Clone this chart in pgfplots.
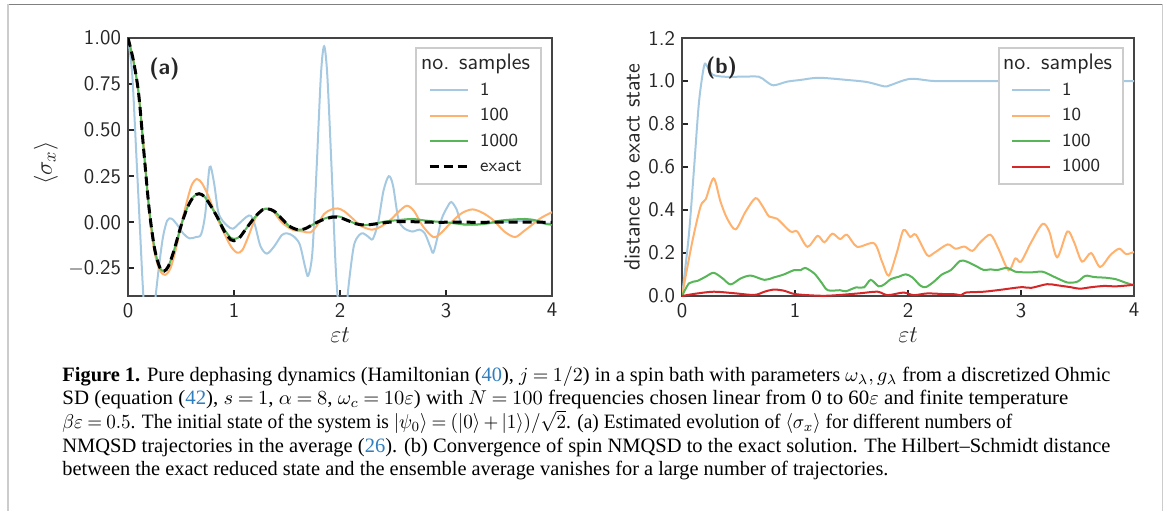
\documentclass[border=0pt]{standalone}
\usepackage{fontspec}
\usepackage{graphicx}
\usepackage{pgfplots}
\pgfplotsset{compat=1.18}
\newfontfamily\capfont[Ligatures=TeX]{Liberation Serif}
\newcommand\capsetup{\capfont\fontsize{10.2}{12}\selectfont\medmuskip=3mu\relax\thickmuskip=4mu\relax}
\definecolor{c1}{HTML}{A5C9E1}
\definecolor{c10}{HTML}{FFB26E}
\definecolor{c100}{HTML}{58B558}
\definecolor{c1000}{HTML}{D62728}
\definecolor{axgray}{HTML}{444444}
\definecolor{txtgray}{HTML}{262626}
\definecolor{leggray}{HTML}{CCCCCC}
\definecolor{refblue}{HTML}{2E7EC0}

\pgfplotsset{
  panel/.style={
    scale only axis, height=129pt,
    xmin=0, xmax=4, xtick={0,1,2,3,4}, xticklabels={0,1,2,3,4},
    axis line style={draw=axgray, line width=0.8pt},
    tick align=inside, xtick pos=bottom, ytick pos=left,
    major tick length=3.2pt,
    tick style={txtgray, line width=1.1pt},
    tick label style={font=\fontsize{10.4}{12}\sffamily, text=txtgray},
    every axis x label/.style={at={(axis description cs:0.5,0)}, yshift=-19.5pt,
      anchor=center, font=\fontsize{13}{15}\selectfont, text=txtgray},
    legend cell align=left,
    legend image code/.code={\path (-2pt,0pt); \draw[##1] (0pt,0pt) -- (19pt,0pt);},
    legend style={at={(1,1)}, anchor=north east, xshift=-5pt, yshift=-4.35pt,
      draw=leggray, line width=1pt, fill=white, inner xsep=4pt, inner ysep=2.4pt,
      font=\fontsize{9.2}{11}\sffamily, text=txtgray, row sep=0.8pt, column sep=4pt,
      nodes={inner sep=1.5pt, text height=7pt, text depth=2pt}},
    every axis plot/.append style={line width=1pt, smooth},
  },
}

\begin{document}
\begin{tikzpicture}
\useasboundingbox (0,0) rectangle (583.5pt,-255.5pt);
\draw[gray, line width=0.5pt] (4pt,-2pt) -- (581pt,-2pt);
\draw[leggray, line width=1pt] (3.75pt,-2pt) -- (3.75pt,-255.5pt);
\draw[leggray, line width=0.5pt] (581pt,-2pt) -- (581pt,-255.5pt);

% panel (a)
\begin{axis}[panel, at={(64pt,-148pt)}, anchor=south west, width=212pt,
  ymin=-0.4, ymax=1.0, ytick={-0.25,0,0.25,0.5,0.75,1},
  yticklabels={$-$0.25,0.00,0.25,0.50,0.75,1.00},
  xlabel={$\varepsilon t$}, ylabel={$\langle\sigma_x\rangle$},
  every axis y label/.style={at={(axis description cs:-0.1934,0.515)}, rotate=90,
    anchor=center, font=\fontsize{12.3}{14}\selectfont, text=txtgray}]
\addlegendimage{empty legend}
\addlegendentry{\hspace*{-29.5pt}\fontsize{11.2}{13}\selectfont no. samples}
\addplot[c1] coordinates {
(0,1.0) (0.04,0.8) (0.08,0.35) (0.11,0.0) (0.14,-0.35) (0.17,-0.6) (0.21,-0.6)
(0.25,-0.45) (0.29,-0.25) (0.33,-0.08) (0.37,0.01) (0.41,0.02) (0.46,-0.01)
(0.52,-0.06) (0.58,-0.087) (0.64,-0.08) (0.69,-0.065) (0.73,0.05) (0.77,0.3)
(0.81,0.22) (0.85,0.06) (0.89,0.01) (0.94,-0.02) (0.99,-0.035) (1.06,0.0)
(1.12,0.03) (1.16,0.035) (1.2,-0.02) (1.25,-0.13) (1.31,-0.17) (1.38,-0.13)
(1.45,-0.07) (1.5,-0.06) (1.56,-0.075) (1.62,-0.12) (1.67,-0.24) (1.7,-0.29)
(1.74,-0.16) (1.78,0.3) (1.82,0.8) (1.85,0.955) (1.88,0.8) (1.92,0.3)
(1.96,-0.25) (2.0,-0.55) (2.04,-0.6) (2.08,-0.35) (2.13,-0.13) (2.18,-0.07)
(2.22,-0.06) (2.27,-0.08) (2.31,-0.09) (2.36,0.0) (2.41,0.17) (2.46,0.25)
(2.5,0.2) (2.55,0.02) (2.6,-0.03) (2.68,-0.05) (2.75,-0.04) (2.8,-0.06)
(2.85,-0.13) (2.88,-0.165) (2.92,-0.08) (2.96,0.02) (3.01,0.08) (3.05,0.11)
(3.1,0.07) (3.15,-0.01) (3.25,-0.012) (3.35,-0.008) (3.5,0.0) (3.65,0.005)
(3.8,0.008) (3.9,-0.005) (4.0,-0.008)};
\addlegendentry{1}
\addplot[c10] coordinates {
(0,1.0) (0.05,0.88) (0.1,0.7) (0.15,0.4) (0.2,0.06) (0.25,-0.16) (0.3,-0.26)
(0.35,-0.285) (0.4,-0.25) (0.45,-0.15) (0.5,-0.02) (0.55,0.1) (0.6,0.2)
(0.65,0.235) (0.7,0.21) (0.76,0.14) (0.82,0.05) (0.9,-0.05) (0.97,-0.13)
(1.03,-0.165) (1.08,-0.15) (1.14,-0.07) (1.2,0.02) (1.26,0.065) (1.31,0.075)
(1.37,0.06) (1.45,0.0) (1.55,-0.04) (1.65,-0.05) (1.72,-0.055) (1.78,-0.02)
(1.85,0.045) (1.92,0.07) (1.98,0.075) (2.04,0.06) (2.12,0.02) (2.2,-0.02)
(2.3,-0.04) (2.38,-0.025) (2.47,0.01) (2.55,0.055) (2.63,0.09) (2.7,0.06)
(2.78,-0.02) (2.88,-0.08) (2.95,-0.06) (3.05,0.0) (3.15,0.05) (3.25,0.07)
(3.35,0.05) (3.45,0.01) (3.55,-0.05) (3.65,-0.08) (3.73,-0.05) (3.82,-0.01)
(3.9,0.025) (4.0,0.055)};
\addlegendentry{100}
\addplot[c100] coordinates {
(0,1.0) (0.05,0.88) (0.1,0.7) (0.15,0.38) (0.2,0.07) (0.25,-0.14) (0.3,-0.245)
(0.34,-0.265) (0.38,-0.24) (0.43,-0.16) (0.5,-0.02) (0.56,0.08) (0.62,0.14)
(0.67,0.155) (0.72,0.14) (0.78,0.09) (0.85,0.02) (0.91,-0.04) (0.97,-0.085)
(1.0,-0.09) (1.05,-0.08) (1.12,-0.03) (1.2,0.03) (1.27,0.068) (1.32,0.073)
(1.38,0.06) (1.45,0.02) (1.52,-0.02) (1.6,-0.04) (1.67,-0.035) (1.75,-0.01)
(1.83,0.015) (1.93,0.033) (2.0,0.03) (2.08,0.01) (2.15,-0.008) (2.24,-0.015)
(2.33,-0.008) (2.42,0.004) (2.55,0.012) (2.68,0.018) (2.8,0.01) (2.9,0.004)
(3.0,0.0) (3.15,-0.01) (3.3,-0.012) (3.4,-0.005) (3.5,0.008) (3.6,0.014)
(3.75,0.018) (3.85,0.01) (3.95,-0.01) (4.0,-0.012)};
\addlegendentry{1000}
\addplot[black, line width=1.5pt, dash pattern=on 4.5pt off 2.5pt] coordinates {
(0,1.0) (0.05,0.88) (0.1,0.7) (0.15,0.38) (0.2,0.07) (0.25,-0.14) (0.3,-0.245)
(0.34,-0.265) (0.38,-0.24) (0.43,-0.16) (0.5,-0.02) (0.56,0.08) (0.62,0.14)
(0.67,0.155) (0.72,0.14) (0.78,0.09) (0.85,0.02) (0.91,-0.05) (0.97,-0.095)
(1.0,-0.1) (1.05,-0.085) (1.12,-0.03) (1.2,0.03) (1.27,0.068) (1.32,0.073)
(1.38,0.06) (1.45,0.02) (1.52,-0.02) (1.6,-0.04) (1.67,-0.035) (1.75,-0.01)
(1.83,0.012) (1.93,0.028) (2.0,0.025) (2.08,0.008) (2.15,-0.008) (2.23,-0.015)
(2.32,-0.01) (2.42,-0.002) (2.55,0.004) (2.7,0.003) (2.9,0.0) (3.1,0.001)
(3.3,0.0) (3.6,0.001) (4.0,0.0)};
\addlegendentry{exact}
\node[font=\fontsize{11}{13}\sffamily\bfseries, text=txtgray] at (axis cs:0.344,0.833) {(a)};
\end{axis}

% panel (b)
\begin{axis}[panel, at={(341pt,-148pt)}, anchor=south west, width=226pt,
  ymin=0, ymax=1.2, ytick={0,0.2,0.4,0.6,0.8,1.0,1.2},
  yticklabels={0.0,0.2,0.4,0.6,0.8,1.0,1.2},
  xlabel={$\varepsilon t$}, ylabel={distance to exact state},
  every axis y label/.style={at={(axis description cs:-0.1106,0.5)}, rotate=90,
    anchor=center, font=\fontsize{11.2}{13}\sffamily, text=txtgray}]
\addlegendimage{empty legend}
\addlegendentry{\hspace*{-29.5pt}\fontsize{11.2}{13}\selectfont no. samples}
\addplot[c1] coordinates {
(0,0) (0.06,0.28) (0.106,0.59) (0.15,0.9) (0.195,1.07) (0.22,1.07) (0.27,1.03)
(0.37,1.02) (0.52,1.02) (0.68,1.02) (0.74,1.0) (0.81,0.98) (0.93,0.997)
(1.05,1.005) (1.21,1.015) (1.46,1.005) (1.64,0.995) (1.79,0.975) (1.84,0.98)
(2.02,1.01) (2.23,1.0) (2.52,1.0) (2.79,1.0) (3.0,1.0) (3.5,1.0) (4.0,1.0)};
\addlegendentry{1}
\addplot[c10] coordinates {
(0,0) (0.09,0.25) (0.165,0.418) (0.21,0.45) (0.28,0.547) (0.34,0.44)
(0.40,0.36) (0.475,0.31) (0.56,0.39) (0.65,0.455) (0.71,0.42) (0.77,0.37)
(0.84,0.36) (0.96,0.30) (1.02,0.30) (1.11,0.229) (1.20,0.28) (1.26,0.25)
(1.33,0.29) (1.40,0.265) (1.46,0.285) (1.55,0.229) (1.70,0.245) (1.77,0.16)
(1.83,0.095) (1.9,0.2) (1.96,0.307) (2.02,0.275) (2.07,0.285) (2.17,0.19)
(2.23,0.2) (2.35,0.24) (2.42,0.22) (2.50,0.23) (2.57,0.21) (2.64,0.25)
(2.73,0.285) (2.80,0.22) (2.89,0.12) (2.95,0.175) (3.0,0.16) (3.09,0.25)
(3.19,0.335) (3.25,0.30) (3.32,0.18) (3.41,0.30) (3.47,0.25) (3.54,0.16)
(3.62,0.2) (3.70,0.135) (3.79,0.19) (3.87,0.22) (3.93,0.195) (4.0,0.205)};
\addlegendentry{10}
\addplot[c100] coordinates {
(0,0) (0.062,0.059) (0.135,0.07) (0.21,0.09) (0.28,0.108) (0.36,0.082)
(0.43,0.054) (0.52,0.082) (0.61,0.095) (0.73,0.075) (0.81,0.086) (0.90,0.1)
(0.99,0.12) (1.05,0.12) (1.09,0.131) (1.17,0.105) (1.23,0.066) (1.29,0.027)
(1.40,0.027) (1.45,0.022) (1.54,0.04) (1.61,0.04) (1.67,0.075) (1.74,0.045)
(1.79,0.054) (1.85,0.079) (1.92,0.09) (1.98,0.101) (2.04,0.086) (2.11,0.048)
(2.16,0.042) (2.23,0.067) (2.30,0.1) (2.38,0.121) (2.46,0.163) (2.52,0.16)
(2.61,0.137) (2.67,0.121) (2.73,0.124) (2.79,0.121) (2.88,0.131) (2.95,0.113)
(3.09,0.11) (3.19,0.113) (3.29,0.09) (3.41,0.063) (3.50,0.067) (3.57,0.094)
(3.65,0.088) (3.75,0.085) (3.84,0.078) (3.92,0.063) (4.0,0.05)};
\addlegendentry{100}
\addplot[c1000] coordinates {
(0,0) (0.11,0.01) (0.28,0.02) (0.46,0.013) (0.64,0.005) (0.73,0.02) (0.81,0.03)
(0.90,0.025) (0.99,0.01) (1.11,0.004) (1.26,0.001) (1.40,0.005) (1.58,0.013)
(1.73,0.02) (1.82,0.004) (1.96,0.016) (2.05,0.004) (2.17,0.012) (2.32,0.009)
(2.42,0.008) (2.47,0.003) (2.51,0.016) (2.67,0.02) (2.82,0.029) (3.0,0.041)
(3.09,0.038) (3.23,0.055) (3.32,0.05) (3.44,0.041) (3.52,0.034) (3.62,0.041)
(3.74,0.047) (3.84,0.045) (4.0,0.052)};
\addlegendentry{1000}
\node[font=\fontsize{11}{13}\sffamily\bfseries, text=txtgray] at (axis cs:0.35,1.06) {(b)};
\end{axis}

% caption
\begin{scope}[every node/.style={anchor=base west, inner sep=0pt}]
\node at (31pt,-190.5pt) {\capsetup\resizebox{524pt}{\height}{\textbf{Figure 1.} Pure dephasing dynamics (Hamiltonian (\textcolor{refblue}{40}), $j=1/2$) in a spin bath with parameters $\omega_\lambda, g_\lambda$ from a discretized Ohmic}};
\node at (31pt,-202.25pt) {\capsetup\smash{\resizebox{503pt}{\height}{SD (equation (\textcolor{refblue}{42}), $s=1$, $\alpha=8$, $\omega_c=10\varepsilon$) with $N=100$ frequencies chosen linear from 0 to 60$\varepsilon$ and finite temperature}}};
\node at (31pt,-214.3pt) {\capsetup\smash{\resizebox{475pt}{\height}{$\beta\varepsilon=0.5$. The initial state of the system is $|\psi_0\rangle=(|0\rangle+|1\rangle)/{\scriptstyle\sqrt{\textstyle 2}}$. (a) Estimated evolution of $\langle\sigma_x\rangle$ for different numbers of}}};
\node at (31pt,-226.1pt) {\capsetup\resizebox{524pt}{\height}{NMQSD trajectories in the average (\textcolor{refblue}{26}). (b) Convergence of spin NMQSD to the exact solution. The Hilbert--Schmidt distance}};
\node at (31pt,-237.8pt) {\capsetup\resizebox{413pt}{\height}{between the exact reduced state and the ensemble average vanishes for a large number of trajectories.}};
\end{scope}
\end{tikzpicture}
\end{document}
